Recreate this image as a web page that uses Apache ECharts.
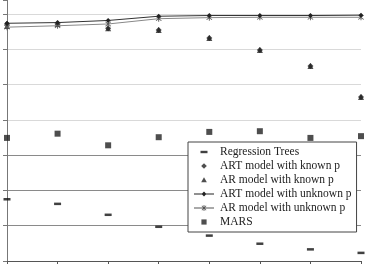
<!DOCTYPE html>
<html>
<head>
  <meta charset="UTF-8">
  <title>Model comparison</title>
  <style>
    html, body { margin: 0; padding: 0; background: #fff; }
    #chart { width: 366px; height: 264px; }
  </style>
  <script src="https://cdn.jsdelivr.net/npm/echarts@6/dist/echarts.min.js"></script>
</head>
<body>
  <div id="chart"></div>
  <script>
    // x categories (labels are cut off in the picture)
    var categories = ['1', '2', '3', '4', '5', '6', '7', '8'];

    var regTrees = [1.75, 1.62, 1.31, 0.97, 0.72, 0.49, 0.33, 0.23];
    var artKnown = [6.72, 6.72, 6.60, 6.55, 6.32, 5.98, 5.53, 4.65];
    var arKnown = [6.66, 6.72, 6.60, 6.55, 6.32, 5.98, 5.53, 4.65];
    var artUnknown = [6.74, 6.76, 6.82, 6.94, 6.96, 6.96, 6.96, 6.97];
    var arUnknown = [6.63, 6.67, 6.72, 6.87, 6.90, 6.91, 6.91, 6.91];
    var mars = [3.49, 3.61, 3.28, 3.51, 3.66, 3.68, 3.49, 3.54];

    var names = ['Regression Trees', 'ART model with known p', 'AR model with known p',
      'ART model with unknown p', 'AR model with unknown p', 'MARS'];

    // symbols (padded paths so legend icons keep their size)
    var dashIcon = 'path://M0,0M20,10M6.5,3.8H13.5V6.2H6.5Z';
    var diamondIcon = 'path://M0,0M20,10M10,2.2L12.8,5L10,7.8L7.2,5Z';
    var triIcon = 'path://M0,0M20,10M10,2.3L12.8,7.3H7.2Z';
    var squareIcon = 'path://M0,0M20,10M7.4,2.4H12.6V7.6H7.4Z';
    var lineDiamondIcon = 'path://M0,0M20,10M0,4.55H20V5.45H0ZM10,2.6L12.4,5L10,7.4L7.6,5Z';
    var lineStarIcon = 'path://M0,0M20,10M0,4.55H20V5.45H0ZM9.6,2H10.4V8H9.6ZM8.1,2.6L12.4,6.9L11.9,7.4L7.6,3.1ZM11.9,2.6L12.4,3.1L8.1,7.4L7.6,6.9Z';
    var asterisk = 'path://M4.4,0H5.6V10H4.4ZM1.8,1L9,8.2L8.2,9L1,1.8ZM8.2,1L9,1.8L1.8,9L1,8.2Z';

    var myChart = echarts.init(document.getElementById('chart'));

    var option = {
      animation: false,
      textStyle: { fontFamily: 'Liberation Serif' },
      grid: { left: 7, right: 5, top: 0, bottom: 3 },
      xAxis: {
        type: 'category',
        data: categories,
        boundaryGap: false,
        axisLine: { lineStyle: { color: '#555', width: 1 } },
        axisTick: { show: true, length: 3, inside: false, lineStyle: { color: '#555' } },
        axisLabel: { show: false },
        splitLine: { show: false }
      },
      yAxis: {
        type: 'value',
        min: 0,
        max: 7.4,
        interval: 1,
        axisLine: { show: true, lineStyle: { color: '#777', width: 1 } },
        axisTick: { show: true, length: 4, lineStyle: { color: '#777' } },
        axisLabel: { show: false },
        splitLine: {
          show: true,
          showMaxLine: false,
          lineStyle: {
            width: 1,
            color: ['#8a8a8a', '#8a8a8a', '#8a8a8a', '#8a8a8a', '#d9d9d9', '#d9d9d9', '#d9d9d9', '#d9d9d9', 'rgba(0,0,0,0)']
          }
        }
      },
      legend: {
        orient: 'vertical',
        left: 188,
        top: 142,
        padding: [4, 5, 4, 6],
        itemWidth: 22,
        itemHeight: 10,
        itemGap: 2,
        backgroundColor: '#fff',
        borderColor: '#444',
        borderWidth: 1,
        borderRadius: 0,
        textStyle: { fontFamily: 'Liberation Serif', fontSize: 11.5, color: '#222' },
        data: [
          { name: names[0], icon: dashIcon },
          { name: names[1], icon: diamondIcon },
          { name: names[2], icon: triIcon },
          { name: names[3], icon: lineDiamondIcon },
          { name: names[4], icon: lineStarIcon },
          { name: names[5], icon: squareIcon }
        ]
      },
      series: [
        {
          name: names[0], type: 'scatter', data: regTrees,
          symbol: 'rect', symbolSize: [7, 2.5],
          itemStyle: { color: '#111' }
        },
        {
          name: names[5], type: 'scatter', data: mars,
          symbol: 'rect', symbolSize: 6,
          itemStyle: { color: '#222' }
        },
        {
          name: names[4], type: 'line', data: arUnknown,
          symbol: asterisk, symbolSize: 6,
          lineStyle: { color: '#888', width: 1 },
          itemStyle: { color: '#555' }
        },
        {
          name: names[3], type: 'line', data: artUnknown,
          symbol: 'diamond', symbolSize: 5,
          lineStyle: { color: '#333', width: 1 },
          itemStyle: { color: '#222' }
        },
        {
          name: names[1], type: 'scatter', data: artKnown,
          symbol: 'diamond', symbolSize: 6,
          itemStyle: { color: '#222' }
        },
        {
          name: names[2], type: 'scatter', data: arKnown,
          symbol: 'triangle', symbolSize: 6,
          itemStyle: { color: '#222' }
        }
      ]
    };

    myChart.setOption(option);
  </script>
</body>
</html>
